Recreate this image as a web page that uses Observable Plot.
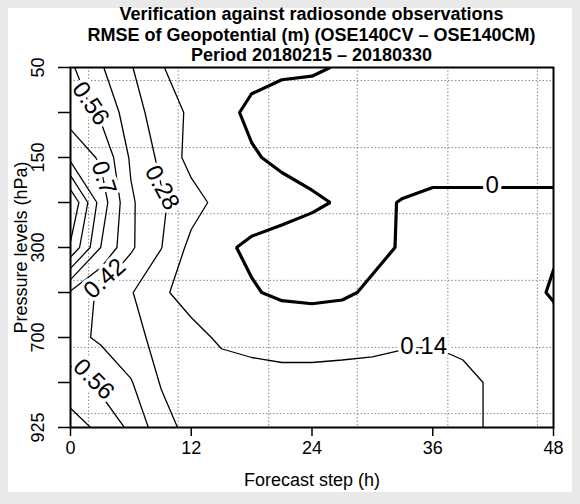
<!DOCTYPE html>
<html><head><meta charset="utf-8">
<script src="https://cdn.jsdelivr.net/npm/d3@7"></script>
<script src="https://cdn.jsdelivr.net/npm/@observablehq/plot@0.6"></script>
<style>
body{margin:0;background:#e9e9e9;font-family:"Liberation Sans",Arial,Helvetica,sans-serif;}
#box{position:absolute;left:8px;top:8px;width:564px;height:484px;background:#fff;}
#chart{position:absolute;left:0;top:0;}
#title{position:absolute;left:40px;width:543px;top:4px;text-align:center;font-weight:bold;font-size:18px;line-height:20.5px;color:#000;}
</style></head><body>
<div id="box"></div>
<div id="chart"></div>
<div id="title">Verification against radiosonde observations<br>RMSE of Geopotential (m) (OSE140CV – OSE140CM)<br>Period 20180215 – 20180330</div>
<script>
// forecast steps (h) and pressure levels (hPa), top to bottom
const steps = [0,3,6,9,12,15,18,21,24,27,30,33,36,39,42,45,48];
const levels = [50,100,150,200,300,500,700,850,925];
// RMSE difference (OSE140CV - OSE140CM), one array per level
const rmse50  = [0.58,0.435,0.29,0.145,0.10,0.06,0.028,0.015,0.012,-0.008,-0.04,-0.05,-0.06,-0.06,-0.05,-0.04,-0.03];
const rmse100 = [0.64,0.53,0.35,0.20,0.12,0.03,-0.02,-0.04,-0.05,-0.06,-0.07,-0.07,-0.07,-0.06,-0.05,-0.04,-0.03];
const rmse150 = [0.80,0.68,0.40,0.25,0.09,0.05,0.01,-0.02,-0.04,-0.05,-0.05,-0.05,-0.04,-0.04,-0.03,-0.03,-0.02];
const rmse200 = [1.25,0.78,0.44,0.30,0.20,0.09,0.06,0.04,0.015,-0.01,-0.02,0.005,0.02,0.02,0.015,0.015,0.01];
const rmse300 = [1.10,0.70,0.44,0.285,0.10,0.02,-0.02,-0.04,-0.05,-0.05,-0.03,0.01,0.03,0.04,0.03,0.02,0.01];
const rmse500 = [0.54,0.39,0.29,0.16,0.09,0.05,0.01,-0.02,-0.03,-0.02,0.02,0.04,0.05,0.05,0.04,0.03,-0.01];
const rmse700 = [0.46,0.40,0.32,0.24,0.18,0.12,0.10,0.09,0.09,0.10,0.11,0.125,0.13,0.12,0.09,0.07,0.04];
const rmse850 = [0.62,0.52,0.43,0.27,0.22,0.20,0.19,0.18,0.18,0.18,0.18,0.18,0.18,0.16,0.13,0.11,0.09];
const rmse925 = [0.76,0.67,0.53,0.34,0.23,0.22,0.21,0.20,0.20,0.20,0.19,0.18,0.17,0.16,0.13,0.10,0.06];
// contour levels
const posLevels = [0.14,0.28,0.42,0.56,0.7,0.84,0.98,1.12,1.26];
const zeroLevel = [0];
// tick labels
const xTicks = [0,12,24,36,48];
const yTickLevels = [50,150,300,700,925];
// dotted grid positions (hours, level index)
const gridSteps = [1.8,10.7,19.7,28.5,37.5,46.4];
const gridLevelPos = [0.29,1.78,3.25,4.73,6.22,7.69];
// inline contour labels
const labelText  = ["0.56","0.7","0.28","0.42","0.56","0","0.14"];
const labelStep  = [2.0,3.3,9.1,3.4,2.3,41.9,35.1];
const labelLevel = [0.8,2.45,2.67,4.69,6.93,2.62,6.2];
const labelAngle = [56,72,62,-42,45,0,0];

const grid = [].concat(rmse50,rmse100,rmse150,rmse200,rmse300,rmse500,rmse700,rmse850,rmse925);
const W = steps.length, H = levels.length;
const dStep = steps[1]-steps[0];
const labels = labelText.map((t,i)=>({text:t, step:labelStep[i], level:labelLevel[i], angle:labelAngle[i]}));
const idxOf = v => levels.indexOf(v);
const font = "Liberation Sans, Arial, Helvetica, sans-serif";
const contourOpts = {width: W, height: H,
  x1: steps[0]-dStep/2, x2: steps[W-1]+dStep/2, y1: -0.5, y2: H-0.5,
  value: Plot.identity, fill: "none", stroke: "black", clip: true};

const chart = Plot.plot({
  width: 580, height: 504,
  marginLeft: 70, marginRight: 27, marginTop: 67, marginBottom: 77,
  style: {background: "transparent", fontFamily: font, fontSize: "18px", color: "#000"},
  x: {domain: [steps[0], steps[W-1]]},
  y: {domain: [0, H-1], reverse: true},
  marks: [
    Plot.ruleX(gridSteps, {stroke: "#8a8a8a", strokeWidth: 1, strokeDasharray: "1.5,2"}),
    Plot.ruleY(gridLevelPos, {stroke: "#8a8a8a", strokeWidth: 1, strokeDasharray: "1.5,2"}),
    Plot.contour(grid, {...contourOpts, thresholds: posLevels, strokeWidth: 1.3}),
    Plot.contour(grid, {...contourOpts, thresholds: zeroLevel, strokeWidth: 3.2}),
    Plot.text(labels, {x: "step", y: "level", text: "text", rotate: "angle", fontSize: 24,
      fill: "black", stroke: "white", strokeWidth: 7, paintOrder: "stroke", fontFamily: font}),
    Plot.frame({stroke: "black", strokeWidth: 2}),
    Plot.axisX({ticks: xTicks, tickSize: 9, tickPadding: 5, fontSize: 18, strokeWidth: 1.5, label: null}),
    Plot.axisY({ticks: d3.range(H), tickSize: 12, strokeWidth: 1.5, tickFormat: () => "", label: null}),
    Plot.text(yTickLevels, {y: d => idxOf(d), text: d => String(d), frameAnchor: "left", textAnchor: "middle", dx: -32, rotate: -90, fontSize: 18}),
    Plot.text(["Forecast step (h)"], {frameAnchor: "bottom", dy: 58, fontSize: 18}),
    Plot.text(["Pressure levels (hPa)"], {frameAnchor: "left", textAnchor: "middle", dx: -49, rotate: -90, fontSize: 18})
  ]
});
document.getElementById("chart").appendChild(chart);
</script>
</body></html>
